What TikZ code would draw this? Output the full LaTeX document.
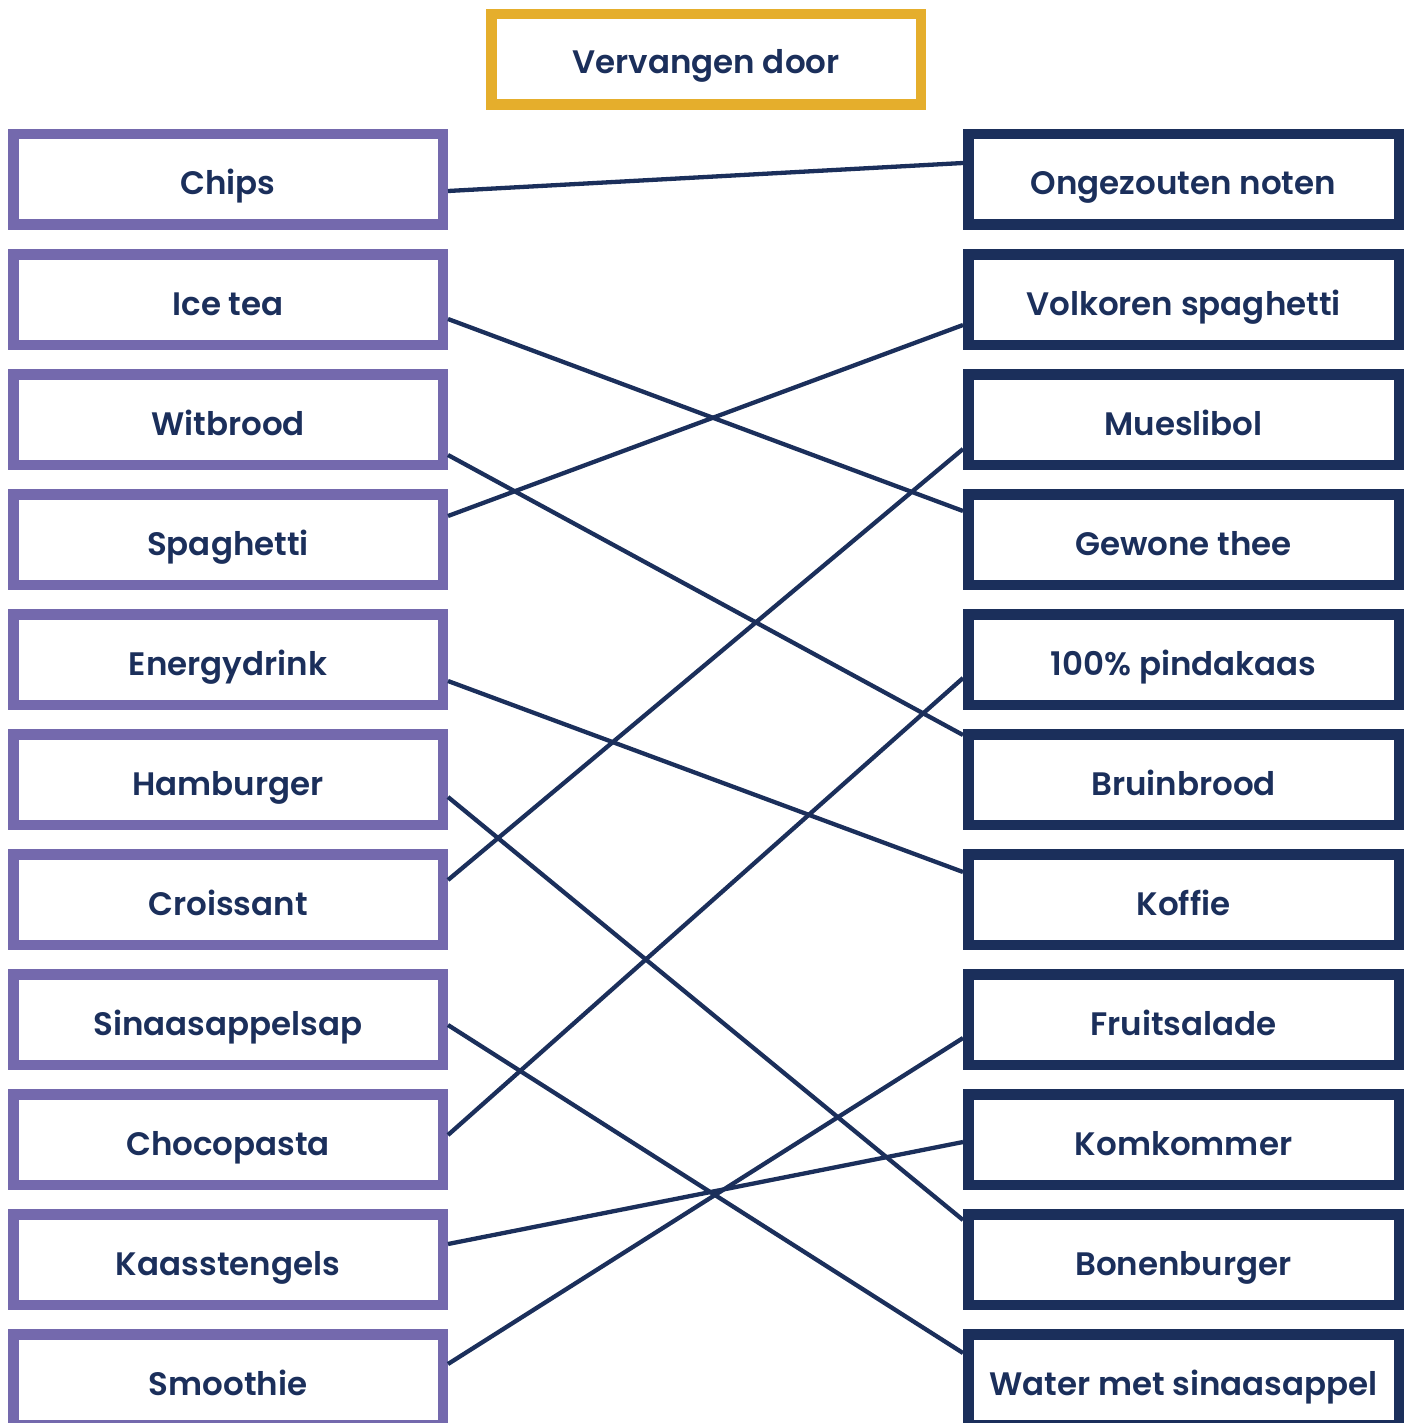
\documentclass[tikz,border=0pt]{standalone}
\usepackage{fontspec}
\setmainfont{Poppins}[UprightFont=* Medium, BoldFont=* SemiBold]
\definecolor{navy}{HTML}{1B2F5B}
\definecolor{lila}{HTML}{7469AD}
\definecolor{gold}{HTML}{E5AE2C}
\begin{document}
\begin{tikzpicture}[x=1pt,y=-1pt,
  basebox/.style={rectangle, line width=10.5pt, minimum height=90.5pt, inner sep=0pt,
     text height=31pt, text depth=0pt,
     text=navy, font=\fontsize{32.5}{38}\selectfont\bfseries},
  leftbox/.style={basebox, draw=lila, minimum width=429.5pt},
  rightbox/.style={basebox, draw=navy, minimum width=430.5pt},
  titlebox/.style={basebox, draw=gold, minimum width=429.5pt, text height=29pt},
  link/.style={draw=navy, line width=4.3pt}]
\useasboundingbox (0,0) rectangle (1408,1423);
\node[titlebox] (t) at (706,59.5) {Vervangen door};
\foreach \n/\txt [count=\k from 0] in {l1/Chips,l2/Ice tea,l3/Witbrood,l4/Spaghetti,l5/Energydrink,l6/Hamburger,l7/Croissant,l8/Sinaasappelsap,l9/Chocopasta,l10/Kaasstengels,l11/Smoothie}
  \node[leftbox] (\n) at (228,179.5+120*\k) {\txt};
\foreach \n/\txt [count=\k from 0] in {r1/Ongezouten noten,r2/Volkoren spaghetti,r3/Mueslibol,r4/Gewone thee,r5/100\% pindakaas,r6/Bruinbrood,r7/Koffie,r8/Fruitsalade,r9/Komkommer,r10/Bonenburger,r11/Water met sinaasappel}
  \node[rightbox] (\n) at (1183.5,179.5+120*\k) {\txt};
\draw[link] ([yshift=-11.5pt]l1.east) -- ([yshift=16.5pt]r1.west);
\draw[link] ([yshift=-19.5pt]l2.east) -- ([yshift=28.5pt]r4.west);
\draw[link] ([yshift=-35.5pt]l3.east) -- ([yshift=44.5pt]r6.west);
\draw[link] ([yshift=23.5pt]l4.east) -- ([yshift=-25.5pt]r2.west);
\draw[link] ([yshift=-21.5pt]l5.east) -- ([yshift=27.5pt]r7.west);
\draw[link] ([yshift=-17.5pt]l6.east) -- ([yshift=39.5pt]r10.west);
\draw[link] ([yshift=19.5pt]l7.east) -- ([yshift=-29.5pt]r3.west);
\draw[link] ([yshift=-5.5pt]l8.east) -- ([yshift=26.5pt]r11.west);
\draw[link] ([yshift=4.5pt]l9.east) -- ([yshift=-18.5pt]r5.west);
\draw[link] ([yshift=15.5pt]l10.east) -- ([yshift=-2.5pt]r9.west);
\draw[link] ([yshift=15.5pt]l11.east) -- ([yshift=-18.5pt]r8.west);
\end{tikzpicture}
\end{document}
